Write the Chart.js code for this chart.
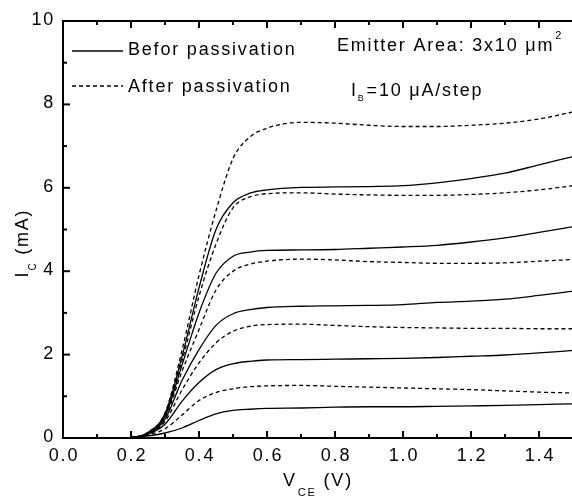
<!DOCTYPE html>
<html>
<head>
<meta charset="utf-8">
<script src="https://cdn.jsdelivr.net/npm/chart.js@4"></script>
<style>
  html, body { margin: 0; padding: 0; background: #fff; overflow: hidden; }
  #wrap { width: 580px; height: 499px; }
</style>
</head>
<body>
<div id="wrap"><canvas id="ic_chart" width="580" height="499"></canvas></div>
<script>
// I-V 特性: 表面保護前後
const vce = [0.18, 0.2, 0.25, 0.3, 0.35, 0.4, 0.45, 0.5, 0.55, 0.6, 0.7, 0.8, 0.9, 1.0, 1.1, 1.2, 1.3, 1.4, 1.5];

// before passivation (solid)
const before1 = [0, 0.01, 0.05, 0.12, 0.24, 0.42, 0.58, 0.66, 0.69, 0.71, 0.72, 0.74, 0.75, 0.75, 0.76, 0.77, 0.78, 0.80, 0.82];
const before2 = [0, 0.01, 0.09, 0.33, 0.88, 1.33, 1.64, 1.78, 1.84, 1.87, 1.88, 1.89, 1.90, 1.91, 1.93, 1.96, 1.99, 2.04, 2.10];
const before3 = [0, 0.01, 0.10, 0.45, 1.38, 2.12, 2.70, 2.98, 3.08, 3.13, 3.16, 3.17, 3.18, 3.20, 3.25, 3.28, 3.33, 3.42, 3.52];
const before4 = [0, 0.01, 0.12, 0.52, 1.75, 3.00, 3.95, 4.36, 4.46, 4.50, 4.51, 4.52, 4.55, 4.58, 4.62, 4.70, 4.80, 4.93, 5.07];
const before5 = [0, 0.01, 0.13, 0.58, 1.95, 3.60, 5.00, 5.64, 5.87, 5.95, 6.01, 6.02, 6.03, 6.05, 6.12, 6.22, 6.35, 6.55, 6.75];

// after passivation (dashed)
const after1 = [0, 0.01, 0.07, 0.22, 0.55, 0.90, 1.09, 1.18, 1.23, 1.25, 1.26, 1.24, 1.22, 1.20, 1.18, 1.16, 1.13, 1.10, 1.08];
const after2 = [0, 0.01, 0.08, 0.40, 1.15, 1.80, 2.28, 2.56, 2.68, 2.72, 2.73, 2.70, 2.67, 2.65, 2.64, 2.63, 2.63, 2.62, 2.62];
const after3 = [0, 0.01, 0.11, 0.48, 1.60, 2.60, 3.55, 4.00, 4.17, 4.24, 4.29, 4.27, 4.23, 4.21, 4.19, 4.19, 4.20, 4.24, 4.28];
const after4 = [0, 0.01, 0.12, 0.55, 1.85, 3.40, 4.65, 5.52, 5.78, 5.86, 5.88, 5.85, 5.83, 5.82, 5.82, 5.84, 5.88, 5.95, 6.05];
const after5 = [0, 0.01, 0.14, 0.60, 2.10, 3.90, 5.45, 6.70, 7.22, 7.43, 7.57, 7.55, 7.50, 7.47, 7.47, 7.50, 7.55, 7.65, 7.82];

const xMajor = [0, 0.2, 0.4, 0.6, 0.8, 1.0, 1.2, 1.4];
const xMajorLabels = ['0.0', '0.2', '0.4', '0.6', '0.8', '1.0', '1.2', '1.4'];
const xMinor = [0.1, 0.3, 0.5, 0.7, 0.9, 1.1, 1.3];
const yMajor = [0, 2, 4, 6, 8, 10];
const yMajorLabels = ['0', '2', '4', '6', '8', '10'];
const yMinor = [1, 3, 5, 7, 9];

const FONT = '"Liberation Sans", Arial, sans-serif';
const DASH = [4, 3];

function series(vals, dashed) {
  return {
    data: vce.map((v, i) => ({ x: v, y: vals[i] })),
    borderColor: '#000',
    borderWidth: 1.3,
    borderDash: dashed ? DASH : [],
    pointRadius: 0,
    fill: false,
    cubicInterpolationMode: 'monotone'
  };
}

// 添字つきテキストを順に描く
function richWidth(ctx, parts) {
  let w = 0;
  parts.forEach(p => { ctx.font = p.size + 'px ' + FONT; w += ctx.measureText(p.t).width + (p.gap || 0); });
  return w;
}
function drawRich(ctx, parts, x, y) {
  parts.forEach(p => {
    ctx.font = p.size + 'px ' + FONT;
    x += (p.gap || 0);
    ctx.fillText(p.t, x, y + (p.dy || 0));
    x += ctx.measureText(p.t).width;
  });
  return x;
}

const frame = {
  id: 'frame',
  afterDatasetsDraw(chart) {
    const { ctx, chartArea: a, scales: { x, y } } = chart;
    ctx.save();
    ctx.strokeStyle = '#000';
    ctx.fillStyle = '#000';
    ctx.lineWidth = 2;
    ctx.setLineDash([]);
    // 右端は画像の外
    ctx.beginPath();
    ctx.moveTo(a.right + 5, a.top); ctx.lineTo(a.left, a.top);
    ctx.lineTo(a.left, a.bottom); ctx.lineTo(a.right + 5, a.bottom);
    ctx.stroke();

    // 内向きの目盛り
    const tick = (px, len, horiz) => {
      ctx.beginPath();
      if (horiz) {
        ctx.moveTo(px, a.bottom); ctx.lineTo(px, a.bottom - len);
        ctx.moveTo(px, a.top); ctx.lineTo(px, a.top + len);
      } else {
        ctx.moveTo(a.left, px); ctx.lineTo(a.left + len, px);
      }
      ctx.stroke();
    };
    xMajor.forEach(v => tick(x.getPixelForValue(v), 7, true));
    xMinor.forEach(v => tick(x.getPixelForValue(v), 4, true));
    yMajor.forEach(v => tick(y.getPixelForValue(v), 7, false));
    yMinor.forEach(v => tick(y.getPixelForValue(v), 4, false));

    ctx.letterSpacing = '1.8px';
    ctx.font = '18px ' + FONT;
    ctx.textBaseline = 'alphabetic';
    ctx.textAlign = 'center';
    xMajor.forEach((v, i) => ctx.fillText(xMajorLabels[i], x.getPixelForValue(v) + 1, a.bottom + 23));
    ctx.textAlign = 'right';
    yMajor.forEach((v, i) => ctx.fillText(yMajorLabels[i], a.left - 8, y.getPixelForValue(v) + 4));

    // 軸タイトル
    ctx.textAlign = 'left';
    const xt = [{ t: 'V', size: 18 }, { t: 'CE', size: 11, dy: 10, gap: 1 }, { t: ' (V)', size: 18 }];
    const cx = (a.left + a.right) / 2;
    drawRich(ctx, xt, cx - richWidth(ctx, xt) / 2, 486);

    const yt = [{ t: 'I', size: 18 }, { t: 'C', size: 10, dy: 8, gap: 0 }, { t: ' (mA)', size: 18 }];
    ctx.save();
    ctx.translate(28, 243);
    ctx.rotate(-Math.PI / 2);
    drawRich(ctx, yt, -richWidth(ctx, yt) / 2, 0);
    ctx.restore();

    // 凡例
    ctx.lineWidth = 1.3;
    ctx.beginPath(); ctx.moveTo(72, 51); ctx.lineTo(123, 51); ctx.stroke();
    ctx.setLineDash(DASH);
    ctx.beginPath(); ctx.moveTo(72, 86); ctx.lineTo(123, 86); ctx.stroke();
    ctx.setLineDash([]);
    ctx.font = '18px ' + FONT;
    ctx.fillText('Befor passivation', 128, 55);
    ctx.fillText('After passivation', 128, 92);

    // 注記
    const ex = drawRich(ctx, [{ t: 'Emitter Area: 3x10 \u03bcm', size: 18 }], 337, 51);
    drawRich(ctx, [{ t: '2', size: 11 }], ex + 1, 39);
    drawRich(ctx, [{ t: 'I', size: 18 }, { t: 'B', size: 9, dy: 5, gap: 0 }, { t: '=10 \u03bcA/step', size: 18, gap: 1 }], 351, 96);

    ctx.restore();
  }
};

new Chart(document.getElementById('ic_chart'), {
  type: 'line',
  data: {
    datasets: [
      series(before1, false), series(before2, false), series(before3, false),
      series(before4, false), series(before5, false),
      series(after1, true), series(after2, true), series(after3, true),
      series(after4, true), series(after5, true)
    ]
  },
  options: {
    responsive: false,
    animation: false,
    layout: { padding: { left: 63, top: 21, right: 7, bottom: 61 } },
    scales: {
      x: { type: 'linear', min: 0, max: 1.5, display: false },
      y: { type: 'linear', min: 0, max: 10, display: false }
    },
    plugins: { legend: { display: false }, tooltip: { enabled: false } }
  },
  plugins: [frame]
});
</script>
</body>
</html>
